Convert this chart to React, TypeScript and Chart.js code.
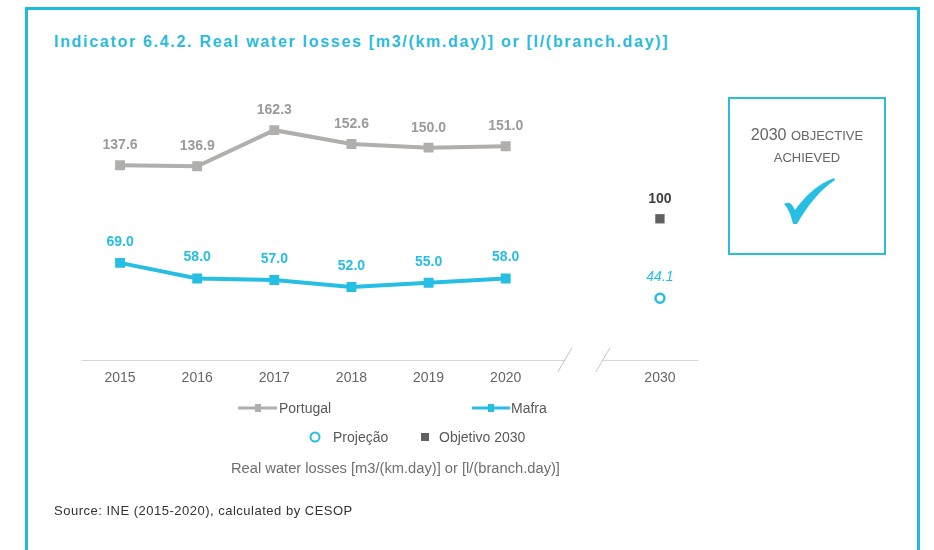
import React, { useEffect, useRef } from "react";
import { Chart, registerables } from "chart.js";

Chart.register(...registerables);

// ---------- data ----------
const categories = ["2015", "2016", "2017", "2018", "2019", "2020", "", "2030"];
const portugal = [137.6, 136.9, 162.3, 152.6, 150.0, 151.0, null, null];
const mafra = [69.0, 58.0, 57.0, 52.0, 55.0, 58.0, null, null];
const projection = [null, null, null, null, null, null, null, 44.1];
const objective2030 = [null, null, null, null, null, null, null, 100];
const breakIndex = 6;

const CYAN = "#26bee2";
const GREY = "#b1aeae";
const FONT = "'Liberation Sans', Arial, sans-serif";

const valueLabels = {
  id: "valueLabels",
  afterDatasetsDraw(chart: any) {
    const ctx = chart.ctx;
    chart.data.datasets.forEach((ds: any, i: number) => {
      const meta = chart.getDatasetMeta(i);
      const st = ds.labelStyle;
      meta.data.forEach((pt: any, j: number) => {
        const v = ds.data[j];
        if (v == null) return;
        ctx.save();
        ctx.font = st.font;
        ctx.fillStyle = st.color;
        ctx.textAlign = "center";
        ctx.textBaseline = "middle";
        ctx.fillText(v.toFixed(st.decimals), pt.x, pt.y - st.offset);
        ctx.restore();
      });
    });
  },
};

const brokenAxis = {
  id: "brokenAxis",
  beforeDatasetsDraw(chart: any) {
    const ctx = chart.ctx;
    const area = chart.chartArea;
    const xs = chart.scales.x;
    const bx = xs.getPixelForValue(breakIndex);
    const y0 = area.bottom - 1;
    ctx.save();
    ctx.strokeStyle = "#d6d6d6";
    ctx.lineWidth = 1;
    ctx.beginPath();
    ctx.moveTo(area.left, y0 + 0.5);
    ctx.lineTo(bx - 18, y0 + 0.5);
    ctx.moveTo(bx + 19, y0 + 0.5);
    ctx.lineTo(area.right, y0 + 0.5);
    ctx.stroke();
    ctx.strokeStyle = "#c4c4c4";
    ctx.beginPath();
    ctx.moveTo(bx - 25, y0 + 12);
    ctx.lineTo(bx - 11, y0 - 12);
    ctx.moveTo(bx + 13, y0 + 12);
    ctx.lineTo(bx + 27, y0 - 12);
    ctx.stroke();
    ctx.restore();
  },
};

function ChartCanvas() {
  const ref = useRef<HTMLCanvasElement | null>(null);
  useEffect(() => {
    if (!ref.current) return;
    const chart = new Chart(ref.current, {
      type: "line",
      data: {
        labels: categories,
        datasets: [
          {
            label: "Portugal",
            data: portugal,
            borderColor: GREY,
            backgroundColor: GREY,
            borderWidth: 4,
            pointStyle: "rect",
            pointRadius: 7,
            pointBorderWidth: 0,
            spanGaps: false,
            labelStyle: { font: `bold 14px ${FONT}`, color: "#9b9b9b", offset: 20, decimals: 1 },
          } as any,
          {
            label: "Mafra",
            data: mafra,
            borderColor: CYAN,
            backgroundColor: CYAN,
            borderWidth: 4,
            pointStyle: "rect",
            pointRadius: 7,
            pointBorderWidth: 0,
            labelStyle: { font: `bold 14px ${FONT}`, color: CYAN, offset: 21, decimals: 1 },
          } as any,
          {
            label: "Projeção",
            data: projection,
            showLine: false,
            borderColor: CYAN,
            backgroundColor: "#ffffff",
            pointStyle: "circle",
            pointRadius: 4.5,
            pointBorderWidth: 2.5,
            labelStyle: { font: `italic 14px ${FONT}`, color: CYAN, offset: 21, decimals: 1 },
          } as any,
          {
            label: "Objetivo 2030",
            data: objective2030,
            showLine: false,
            borderColor: "#606060",
            backgroundColor: "#606060",
            pointStyle: "rect",
            pointRadius: 6.6,
            pointBorderWidth: 0,
            labelStyle: { font: `bold 14px ${FONT}`, color: "#404040", offset: 20, decimals: 0 },
          } as any,
        ],
      },
      options: {
        animation: false,
        responsive: false,
        maintainAspectRatio: false,
        layout: { padding: { left: 81.5, right: 235.5, top: 105, bottom: 0 } },
        plugins: { legend: { display: false }, tooltip: { enabled: false }, title: { display: false } },
        scales: {
          x: {
            type: "category",
            offset: true,
            grid: { display: false, drawTicks: false },
            border: { display: false },
            ticks: {
              color: "#666666",
              font: { family: FONT, size: 14 },
              padding: 9,
              autoSkip: false,
              maxRotation: 0,
            },
            afterFit: (s: any) => {
              s.height = 189;
            },
          },
          y: {
            display: false,
            min: 0,
            max: 180,
          },
        },
      },
      plugins: [brokenAxis, valueLabels],
    });
    return () => chart.destroy();
  }, []);
  return (
    <canvas
      ref={ref}
      width={934}
      height={550}
      style={{ position: "absolute", left: 0, top: 0, width: 934, height: 550 }}
    />
  );
}

const txt: React.CSSProperties = {
  position: "absolute",
  fontFamily: FONT,
  whiteSpace: "nowrap",
  lineHeight: 1,
};

export default function App() {
  return (
    <div
      style={{
        position: "fixed",
        left: 0,
        top: 0,
        width: 934,
        height: 550,
        overflow: "hidden",
        background: "#ffffff",
      }}
    >
      <div
        style={{
          position: "absolute",
          left: 25,
          top: 7,
          width: 889,
          height: 600,
          border: "3px solid #1ebcdc",
          borderBottom: "none",
        }}
      />
      <div
        style={{
          ...txt,
          left: 54,
          top: 34,
          fontSize: 16,
          fontWeight: "bold",
          color: "#2bbbdc",
          letterSpacing: "1.7px",
        }}
      >
        Indicator 6.4.2. Real water losses [m3/(km.day)] or [l/(branch.day)]
      </div>

      <ChartCanvas />

      {/* objective box */}
      <div
        style={{
          position: "absolute",
          left: 728,
          top: 97,
          width: 154,
          height: 154,
          border: "2px solid #2bbbdc",
        }}
      />
      <div style={{ ...txt, left: 730, width: 154, top: 127, textAlign: "center", color: "#666", fontSize: 16 }}>
        2030 <span style={{ fontSize: 13 }}>OBJECTIVE</span>
      </div>
      <div style={{ ...txt, left: 730, width: 154, top: 151, textAlign: "center", color: "#666", fontSize: 13 }}>
        ACHIEVED
      </div>
      <svg
        width={934}
        height={550}
        style={{ position: "absolute", left: 0, top: 0 }}
      >
        <path
          d="M784 204 C789 201 792 203 795 210 C805 196 818 184 834 178 L835 180 C820 190 808 205 797 224 L793 224 C791 215 788 208 784 204 Z"
          fill={CYAN}
        />
        {/* legend samples */}
        <line x1={238} y1={408} x2={277} y2={408} stroke={GREY} strokeWidth={3} />
        <rect x={255} y={404} width={6} height={8} fill={GREY} />
        <line x1={472} y1={408} x2={510} y2={408} stroke={CYAN} strokeWidth={3} />
        <rect x={488} y={404} width={6} height={8} fill={CYAN} />
        <circle cx={315} cy={437} r={4.5} fill="none" stroke={CYAN} strokeWidth={2} />
        <rect x={421} y={433} width={8} height={8} fill="#606060" />
      </svg>

      <div style={{ ...txt, left: 279, top: 401, fontSize: 14, color: "#595959" }}>Portugal</div>
      <div style={{ ...txt, left: 511, top: 401, fontSize: 14, color: "#595959" }}>Mafra</div>
      <div style={{ ...txt, left: 333, top: 430, fontSize: 14, color: "#595959" }}>Projeção</div>
      <div style={{ ...txt, left: 439, top: 430, fontSize: 14, color: "#595959" }}>Objetivo 2030</div>
      <div style={{ ...txt, left: 231, top: 461, fontSize: 14.7, color: "#6f6f6f" }}>
        Real water losses [m3/(km.day)] or [l/(branch.day)]
      </div>
      <div style={{ ...txt, left: 54, top: 504, fontSize: 13, color: "#333", letterSpacing: "0.5px" }}>
        Source: INE (2015-2020), calculated by CESOP
      </div>
    </div>
  );
}
